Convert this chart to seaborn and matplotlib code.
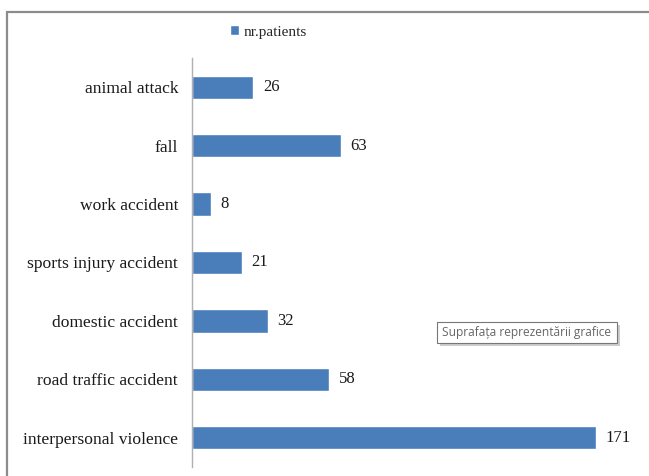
import matplotlib
matplotlib.use("Agg")
import matplotlib.pyplot as plt
import seaborn as sns
import pandas as pd
from matplotlib.patches import Rectangle

categories = ["animal attack", "fall", "work accident", "sports injury accident",
              "domestic accident", "road traffic accident", "interpersonal violence"]
patients = [26, 63, 8, 21, 32, 58, 171]
series_name = "nr.patients"

df = pd.DataFrame({"cause": categories, "count": patients})

sns.set_theme(style="white")
plt.rcParams["font.family"] = ["Liberation Serif", "DejaVu Serif"]

W, H = 649, 476
fig = plt.figure(figsize=(W / 100, H / 100), dpi=100)
ax = fig.add_axes([192 / W, 1 - 467 / H, (641 - 192) / W, (467 - 58) / H])

sns.barplot(data=df, y="cause", x="count", orient="h", color="#4A7EBB",
            width=0.4, saturation=1, ax=ax, label=series_name)

ax.set_xlim(0, 190)
ax.set_ylim(6.5, -0.5)
ax.set_xlabel("")
ax.set_ylabel("")
ax.set_xticks([])
ax.tick_params(axis="y", length=0, pad=10, labelsize=12.6, labelcolor="#1a1a1a")
for side in ["top", "right", "bottom"]:
    ax.spines[side].set_visible(False)
ax.spines["left"].set_color("#b0b0b0")
ax.spines["left"].set_linewidth(1.0)

for cont in ax.containers:
    ax.bar_label(cont, padding=7, fontsize=12, color="#1a1a1a")

leg = ax.legend(loc="center", bbox_to_anchor=(268 / W, 1 - 32 / H),
                bbox_transform=fig.transFigure, frameon=False, fontsize=11,
                handlelength=0.6, handleheight=0.6, handletextpad=0.3)

# outer chart-area frame
fig.patches.append(Rectangle((7 / W, -0.05), 1.1, 1 - 12 / H + 0.05,
                             transform=fig.transFigure, fill=False,
                             edgecolor="#8c8c8c", linewidth=1.6))

# hover tooltip with a soft drop shadow
bx0, bx1, by0, by1 = 437, 617, 322, 343
fig.patches.append(Rectangle(((bx0 + 3) / W, 1 - (by1 + 3) / H),
                             (bx1 - bx0) / W, (by1 - by0) / H,
                             transform=fig.transFigure, facecolor="#cccccc",
                             edgecolor="none"))
fig.patches.append(Rectangle((bx0 / W, 1 - by1 / H),
                             (bx1 - bx0) / W, (by1 - by0) / H,
                             transform=fig.transFigure, facecolor="white",
                             edgecolor="#777777", linewidth=0.8))
fig.text((bx0 + bx1) / 2 / W, 1 - (by0 + by1) / 2 / H,
         "Suprafața reprezentării grafice",
         family=["Open Sans", "DejaVu Sans"], fontsize=8.6, color="#666666",
         va="center", ha="center")

fig.savefig("out.png", dpi=100)
